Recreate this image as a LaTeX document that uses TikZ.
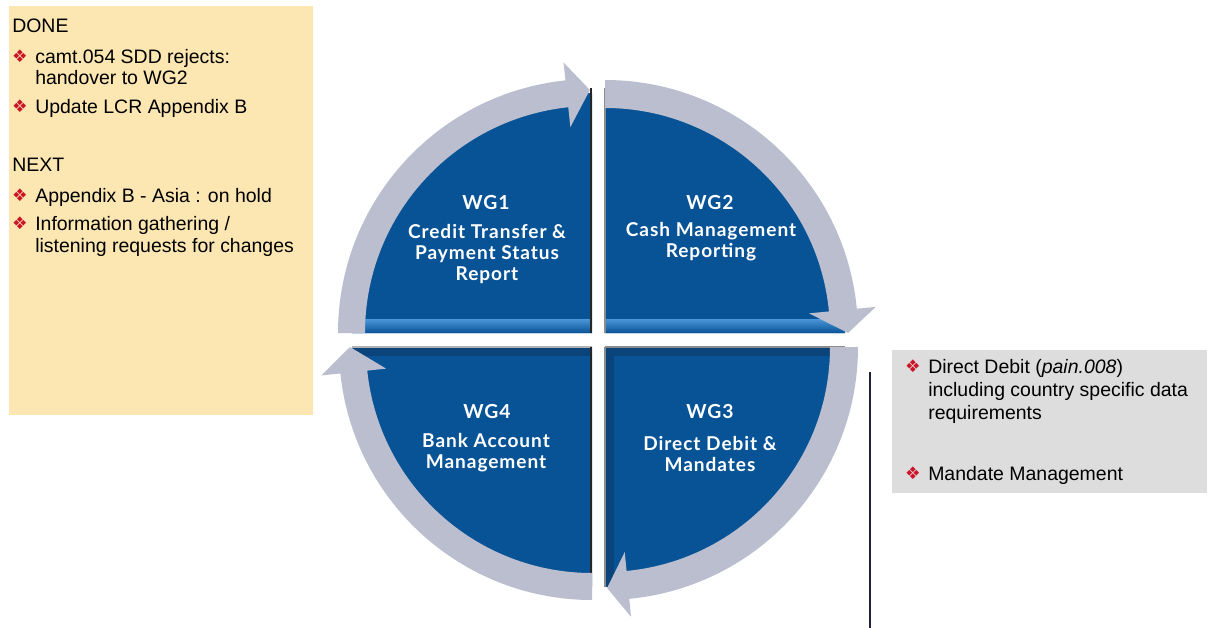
\documentclass[tikz,border=0pt]{standalone}
\usepackage{fontspec}
\setmainfont{Liberation Sans}
\newfontfamily\symfont{DejaVu Sans}
\newfontfamily\wgfont[LetterSpace=5]{Lato}
\usepackage{tikz}

\definecolor{wgblue}{RGB}{8,83,150}
\definecolor{wglight}{RGB}{75,150,215}
\definecolor{wgdark}{RGB}{12,58,105}
\definecolor{ringgray}{RGB}{186,190,206}
\definecolor{noteyellow}{RGB}{252,231,178}
\definecolor{notegray}{RGB}{221,221,221}
\definecolor{bulletred}{RGB}{204,20,40}
\definecolor{linenavy}{RGB}{30,35,60}

\newcommand{\notelines}[1]{\begin{tabular}[t]{@{}l@{}}#1\end{tabular}}

\tikzset{
  notetext/.style={anchor=base west, inner sep=0pt, font=\fontsize{14.6}{16.5}\selectfont},
  bullet/.style={inner sep=0pt, text=bulletred, font=\symfont\fontsize{13}{13}\selectfont},
  wghead/.style={inner sep=0pt, text=white, font=\wgfont\bfseries\fontsize{14.5}{16}\selectfont},
  wgtext/.style={inner sep=0pt, text=white, align=center, font=\wgfont\bfseries\fontsize{14.3}{15.9}\selectfont},
  ring/.style={fill=ringgray, draw=none},
}

\begin{document}
\begin{tikzpicture}[x=0.75pt,y=0.75pt,yscale=-1,xscale=1]
\fill[white] (0,0) rectangle (1208,628);
\useasboundingbox (0,0) rectangle (1208,628);

%Shape: Rectangle [DONE / NEXT note]
\fill[noteyellow] (9,6) rectangle (313,415);
%Shape: Rectangle [WG3 note]
\fill[notegray] (892,350) rectangle (1207,493);

%Quarter: WG1
\begin{scope}[shift={(592,333)}]
  \fill[wgblue] (0,0) -- (180:240) arc[start angle=180,end angle=270,radius=240] -- cycle;
  \begin{scope}
    \clip (0,0) -- (180:240) arc[start angle=180,end angle=270,radius=240] -- cycle;
    \shade[top color=wglight, bottom color=wgblue] (-240,-14) rectangle (0,0);
  \end{scope}
  \draw[line width=1.8, black!85] (-1,0) -- (-1,-245);
  \fill[ring] (180:254) arc[start angle=180,end angle=264,radius=254] -- (264:272) -- (269.5:243) -- (264:207) -- (264:227) arc[start angle=264,end angle=180,radius=227] -- cycle;
\end{scope}

%Quarter: WG2
\begin{scope}[shift={(605,333)}]
  \fill[wgblue] (0,0) -- (270:240) arc[start angle=270,end angle=360,radius=240] -- cycle;
  \begin{scope}
    \clip (0,0) -- (270:240) arc[start angle=270,end angle=360,radius=240] -- cycle;
    \shade[top color=wglight, bottom color=wgblue] (0,-14) rectangle (240,0);
  \end{scope}
  \draw[line width=0.8, black!45] (0,0) -- (0,-245);
  \fill[ring] (270:253) arc[start angle=270,end angle=354.5,radius=253] -- (354.5:272) -- (360:243) -- (354.5:205) -- (354.5:225) arc[start angle=354.5,end angle=270,radius=225] -- cycle;
\end{scope}

%Quarter: WG3
\begin{scope}[shift={(605,347)}]
  \fill[wgblue] (0,0) -- (0:240) arc[start angle=0,end angle=90,radius=240] -- cycle;
  \begin{scope}
    \clip (0,0) -- (0:240) arc[start angle=0,end angle=90,radius=240] -- cycle;
    \fill[wgdark, opacity=0.6] (0,0) rectangle (240,9);
    \fill[wgdark, opacity=0.6] (0,9) rectangle (9,240);
  \end{scope}
  \draw[line width=0.8, black!45] (0,0) -- (0,240) (0,0) -- (240,0);
  \fill[ring] (0:253) arc[start angle=0,end angle=84.5,radius=253] -- (84.5:271) -- (89.5:241) -- (84.5:206) -- (84.5:225) arc[start angle=84.5,end angle=0,radius=225] -- cycle;
\end{scope}

%Quarter: WG4
\begin{scope}[shift={(592,347)}]
  \fill[wgblue] (0,0) -- (90:240) arc[start angle=90,end angle=180,radius=240] -- cycle;
  \begin{scope}
    \clip (0,0) -- (90:240) arc[start angle=90,end angle=180,radius=240] -- cycle;
    \fill[wgdark, opacity=0.6] (-240,0) rectangle (0,9);
  \end{scope}
  \draw[line width=0.8, black!30] (-240,0) -- (0,0);
  \draw[line width=1.8, black!85] (-1,0) -- (-1,245);
  \fill[ring] (90:253) arc[start angle=90,end angle=174,radius=253] -- (174:272) -- (180:242) -- (174:207) -- (174:226) arc[start angle=174,end angle=90,radius=226] -- cycle;
\end{scope}

% Text Node
\node[wghead] (wg1) at (486,203) {WG1};
\node[wgtext] (wg1text) at (487,254) {Credit Transfer \&\\Payment Status\\Report};
\node[wghead] (wg2) at (710,203) {WG2};
\node[wgtext] (wg2text) at (711,242) {Cash Management\\Reporting};
\node[wghead] (wg3) at (710,412) {WG3};
\node[wgtext] (wg3text) at (710,454) {Direct Debit \&\\Mandates};
\node[wghead] (wg4) at (487,412) {WG4};
\node[wgtext] (wg4text) at (486,453) {Bank Account\\Management};

% Text Node
\node[notetext] (done) at (12,32) {DONE};
\node[bullet] (b1) at (20,56) {❖};
\node[notetext] (camt) at (35,63) {\notelines{camt.054 SDD rejects:\\handover to WG2}};
\node[bullet] (b2) at (20,106) {❖};
\node[notetext] (lcr) at (35,113) {Update LCR Appendix B};
\node[notetext] (next) at (12,171) {NEXT};
\node[bullet] (b3) at (20,195) {❖};
\node[notetext] (asia) at (35,202) {Appendix B - Asia : on hold};
\node[bullet] (b4) at (20,223) {❖};
\node[notetext] (info) at (35,230) {\notelines{Information gathering /\\listening requests for changes}};

% Text Node
\node[bullet] (b5) at (913,366) {❖};
\node[notetext] (dd) at (928,373) {\notelines{Direct Debit (\textit{pain.008})\\[1pt]including country specific data\\[1pt]requirements}};
\node[bullet] (b6) at (913,473) {❖};
\node[notetext] (mandate) at (928,480) {Mandate Management};

%Straight Lines
\draw[linenavy, line width=1.2] (870,372) -- (870,628);

\end{tikzpicture}
\end{document}
